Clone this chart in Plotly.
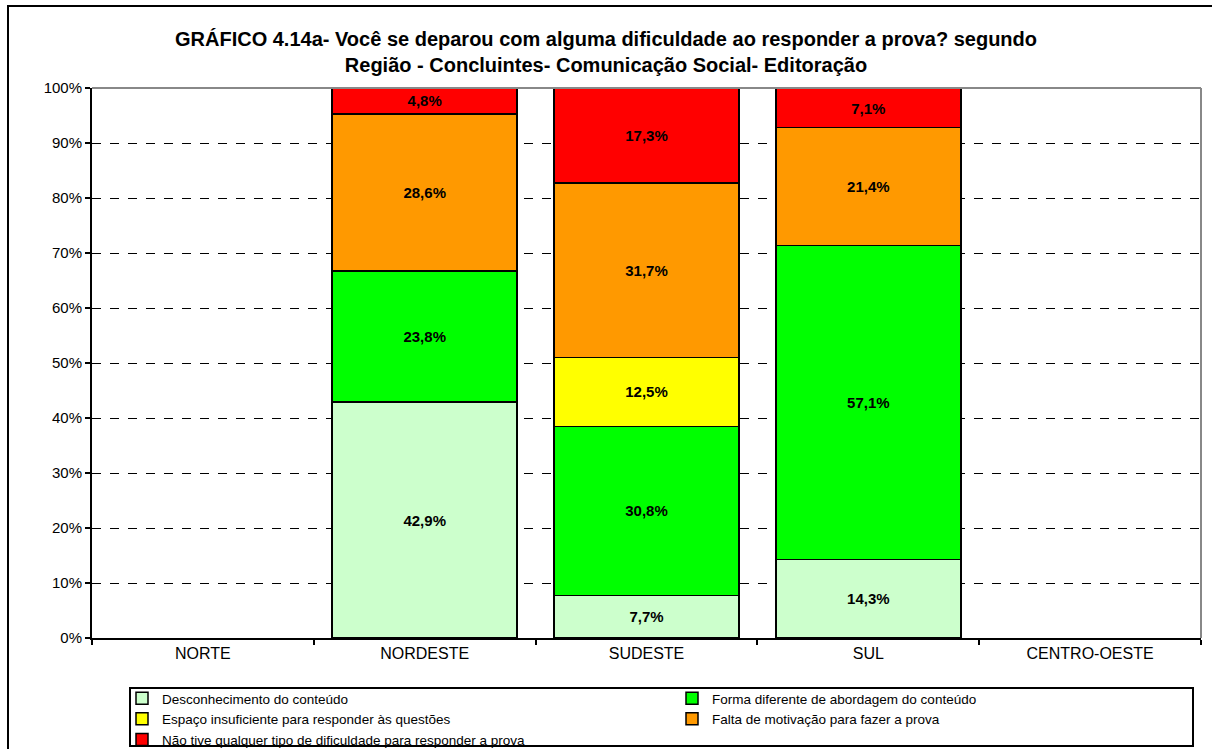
import plotly.graph_objects as go

# Regions (x axis) and response categories (stacked series)
regioes = ["NORTE", "NORDESTE", "SUDESTE", "SUL", "CENTRO-OESTE"]

desconhecimento = [None, 42.9, 7.7, 14.3, None]
forma_diferente = [None, 23.8, 30.8, 57.1, None]
espaco_insuficiente = [None, None, 12.5, None, None]
falta_motivacao = [None, 28.6, 31.7, 21.4, None]
sem_dificuldade = [None, 4.8, 17.3, 7.1, None]

series = [
    ("Desconhecimento do conteúdo", desconhecimento, "#CCFFCC"),
    ("Forma diferente de abordagem do conteúdo", forma_diferente, "#00FF00"),
    ("Espaço insuficiente para responder às questões", espaco_insuficiente, "#FFFF00"),
    ("Falta de motivação para fazer a prova", falta_motivacao, "#FF9900"),
    ("Não tive qualquer tipo de dificuldade para responder a prova", sem_dificuldade, "#FF0000"),
]

FONT = "Liberation Sans, Arial, sans-serif"

fig = go.Figure()
for name, vals, color in series:
    fig.add_trace(go.Bar(
        name=name,
        x=regioes,
        y=vals,
        marker=dict(color=color, line=dict(color="#000000", width=1.5)),
        width=0.834,
        texttemplate="%{y:.1f}%",
        textposition="inside",
        insidetextanchor="middle",
        textangle=0,
        textfont=dict(family=FONT, size=15, color="#000000", weight="bold"),
        constraintext="none",
    ))

W, H = 1212, 749
ml, mr, mt, mb = 92, 11, 88, 111
pw, ph = W - ml - mr, H - mt - mb


def px_x(x):
    return (x - ml) / pw


def px_y(y):
    return (H - mb - y) / ph


fig.update_layout(
    width=W, height=H,
    margin=dict(l=ml, r=mr, t=mt, b=mb, autoexpand=False),
    barmode="stack",
    separators=",.",
    paper_bgcolor="white",
    plot_bgcolor="white",
    font=dict(family=FONT, size=14, color="#000000"),
    title=dict(
        text="GRÁFICO 4.14a- Você se deparou com alguma dificuldade ao responder a prova? segundo<br>"
             "Região - Concluintes- Comunicação Social- Editoração",
        x=0.5, xref="container", xanchor="center",
        y=1 - 46 / H, yanchor="middle",
        font=dict(family=FONT, size=20, color="#000000", weight="bold"),
    ),
    xaxis=dict(
        categoryorder="array", categoryarray=regioes,
        tickson="boundaries", ticks="outside", ticklen=5, tickwidth=2, tickcolor="#000000",
        showline=True, linecolor="#000000", linewidth=2,
        showgrid=False,
        tickfont=dict(family=FONT, size=16),
        range=[-0.5, 4.5],
    ),
    yaxis=dict(
        range=[0, 100], dtick=10, ticksuffix="%",
        ticks="outside", ticklen=5, tickwidth=2, tickcolor="#000000",
        showline=True, linecolor="#000000", linewidth=2,
        showgrid=True, gridcolor="#000000", gridwidth=1, griddash="dash",
        zeroline=False,
        tickfont=dict(family=FONT, size=15),
    ),
    legend=dict(
        orientation="h",
        x=px_x(122), y=px_y(683), xanchor="left", yanchor="top",
        entrywidth=505, entrywidthmode="pixels",
        traceorder="normal",
        borderwidth=0, bgcolor="rgba(0,0,0,0)",
        font=dict(family=FONT, size=13.5),
        itemclick=False, itemdoubleclick=False,
        tracegroupgap=0,
        itemwidth=30,
    ),
    shapes=[
        # gray plot-area border on top and right
        dict(type="line", xref="paper", yref="paper", x0=0, x1=1, y0=1, y1=1,
             line=dict(color="#888888", width=2), layer="above"),
        dict(type="line", xref="paper", yref="paper", x0=1, x1=1, y0=0, y1=1,
             line=dict(color="#888888", width=2), layer="above"),
        # legend frame
        dict(type="rect", xref="paper", yref="paper",
             x0=px_x(130), x1=px_x(1193), y0=px_y(688), y1=px_y(746),
             line=dict(color="#000000", width=2), fillcolor="rgba(0,0,0,0)", layer="above"),
        # outer chart frame
        dict(type="rect", xref="paper", yref="paper",
             x0=px_x(8), x1=px_x(1240), y0=px_y(6), y1=px_y(760),
             line=dict(color="#000000", width=2), fillcolor="rgba(0,0,0,0)", layer="above"),
    ],
)

fig.write_html("out.html")
